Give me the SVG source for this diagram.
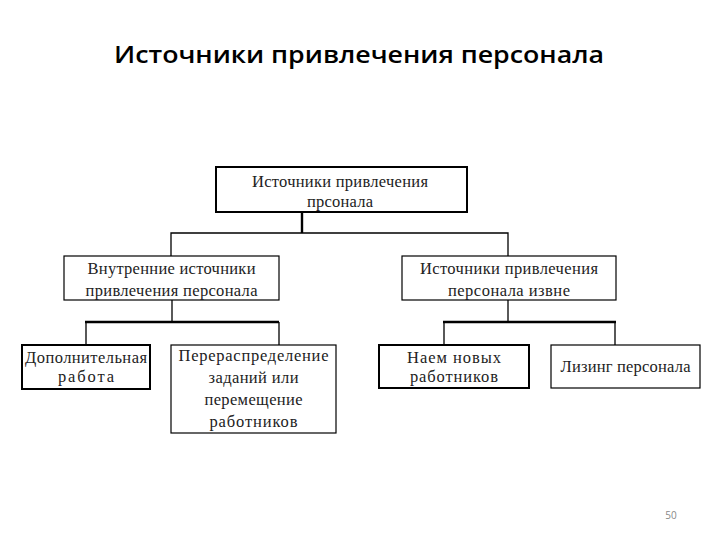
<svg xmlns="http://www.w3.org/2000/svg" width="720" height="540" viewBox="0 0 720 540">
<style>
.box{fill:#fff;stroke:#000}
.thick{stroke-width:2}
.thin{stroke-width:1.2}
.t{font-family:"Liberation Serif","Times New Roman",serif;font-size:16.5px;fill:#222;text-anchor:middle}
.title{font-family:"Open Sans","Noto Sans",sans-serif;font-weight:600;font-size:24px;fill:#000;text-anchor:middle}
.c{fill:none;stroke:#000}
</style>
<rect width="720" height="540" fill="#fff"/>
<text class="title" x="359" y="63" textLength="490" lengthAdjust="spacingAndGlyphs">Источники привлечения персонала</text>
<g id="connectors">
<path class="c" stroke-width="2.4" d="M302 212V233"/>
<path class="c" stroke-width="1.3" d="M171 256V233H508V256"/>
<path class="c" stroke-width="1.3" d="M172 300V322"/>
<path class="c" stroke-width="2.4" d="M85 322H279"/>
<path class="c" stroke-width="1.3" d="M86 322V345M279 322V345"/>
<path class="c" stroke-width="1.3" d="M508 300V322"/>
<path class="c" stroke-width="2.4" d="M443 322H616"/>
<path class="c" stroke-width="1.3" d="M444 322V345M615 322V345"/>
</g>
<g id="top">
<rect class="box thick" x="216" y="167" width="251" height="45"/>
<text class="t" x="340" y="187" textLength="176" lengthAdjust="spacing">Источники привлечения</text>
<text class="t" x="340" y="207" textLength="66" lengthAdjust="spacing">прсонала</text>
</g>
<g id="internal">
<rect class="box thin" x="64" y="256" width="215" height="44"/>
<text class="t" x="171.5" y="274" textLength="168" lengthAdjust="spacing">Внутренние источники</text>
<text class="t" x="171.5" y="296" textLength="172" lengthAdjust="spacing">привлечения персонала</text>
</g>
<g id="external">
<rect class="box thin" x="402" y="256" width="214" height="44"/>
<text class="t" x="509" y="274" textLength="178" lengthAdjust="spacing">Источники привлечения</text>
<text class="t" x="509" y="296" textLength="122" lengthAdjust="spacing">персонала извне</text>
</g>
<g id="extra-work">
<rect class="box thick" x="22" y="345" width="128" height="44"/>
<text class="t" x="86" y="363" textLength="122" lengthAdjust="spacing">Дополнительная</text>
<text class="t" x="86" y="382" textLength="56" lengthAdjust="spacing">работа</text>
</g>
<g id="redistribution">
<rect class="box thin" x="171" y="345" width="165" height="88"/>
<text class="t" x="253.5" y="361" textLength="150" lengthAdjust="spacing">Перераспределение</text>
<text class="t" x="253.5" y="383" textLength="90" lengthAdjust="spacing">заданий или</text>
<text class="t" x="253.5" y="405" textLength="98" lengthAdjust="spacing">перемещение</text>
<text class="t" x="253.5" y="427" textLength="88" lengthAdjust="spacing">работников</text>
</g>
<g id="hiring">
<rect class="box thick" x="379" y="345" width="150" height="43"/>
<text class="t" x="454" y="363" textLength="94" lengthAdjust="spacing">Наем новых</text>
<text class="t" x="454" y="382" textLength="88" lengthAdjust="spacing">работников</text>
</g>
<g id="leasing">
<rect class="box thin" x="551" y="345" width="149" height="43"/>
<text class="t" x="625.5" y="372" textLength="130" lengthAdjust="spacing">Лизинг персонала</text>
</g>
<text x="671" y="519" style="font-family:'Open Sans','Noto Sans',sans-serif;font-size:10px;fill:#888;text-anchor:middle">50</text>
</svg>
